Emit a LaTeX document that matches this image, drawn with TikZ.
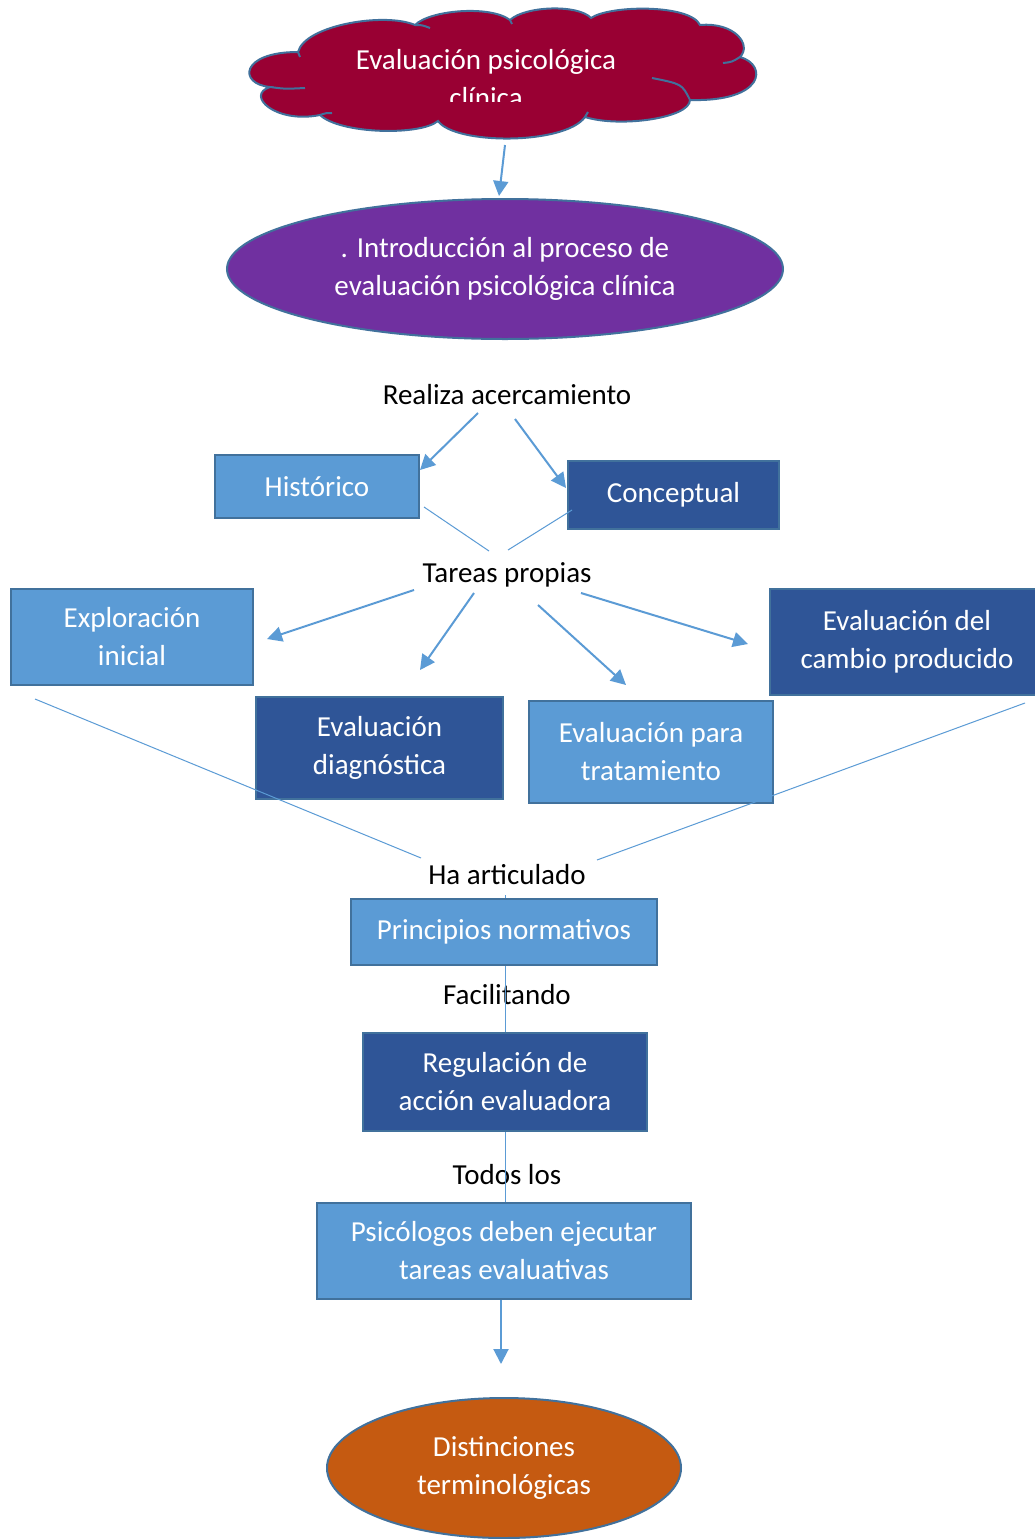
\documentclass[tikz,border=0pt]{standalone}
\usepackage{fontspec}
\setmainfont{Carlito}
\usepackage{tikz}
\usetikzlibrary{
  arrows.meta,
  positioning,
  shapes.geometric,
}
\definecolor{crimson}{HTML}{990033}
\definecolor{violet}{HTML}{7030A0}
\definecolor{rust}{HTML}{C55A11}
\definecolor{skyblue}{HTML}{5B9BD5}
\definecolor{navy}{HTML}{2F5597}
\definecolor{edge}{HTML}{41719C}
\tikzset{
  font=\fontsize{29}{38}\selectfont,
  arrow/.style={draw=skyblue, line width=2pt, -{Triangle[length=15pt, width=15pt]}},
  thin/.style={draw=skyblue, line width=1pt},
  word/.style={text=black, inner sep=0pt},
  rim/.style={draw=edge, line width=2pt},
  box/.style={
    rectangle,
    draw=edge,
    fill=#1,
    line width=2pt,
    text=white,
    align=center,
    inner sep=0pt,
  },
  blob/.style={
    ellipse,
    draw=edge,
    fill=#1,
    line width=2pt,
    text=white,
    align=center,
    inner sep=0pt,
  },
}

\begin{document}
\begin{tikzpicture}[x=1pt,y=-1pt]
  \useasboundingbox (0,0) rectangle (1035,1539);
  \fill[white] (0,0) rectangle (1035,1539);

  % cloud
  \filldraw[rim, fill=crimson] (270,87)
    .. controls (238,84) and (240,52) .. (298,52)
    .. controls (305,25) and (385,12) .. (415,25)
    .. controls (430,10) and (490,5) .. (510,20)
    .. controls (525,6) and (578,4) .. (591,18)
    .. controls (610,5) and (690,4) .. (700,25)
    .. controls (735,22) and (752,45) .. (740,57)
    .. controls (768,65) and (765,102) .. (690,100)
    .. controls (690,118) and (620,128) .. (585,117)
    .. controls (565,145) and (455,145) .. (438,121)
    .. controls (420,136) and (340,134) .. (320,115)
    .. controls (275,124) and (245,95) .. (270,87) -- cycle;
  \draw[rim] (298,52) -- (300,57);
  \draw[rim] (270,87) .. controls (285,89) .. (305,88);
  \draw[rim] (320,115) .. controls (326,113) .. (332,113);
  \draw[rim] (415,25) .. controls (422,25) .. (430,28);
  \draw[rim] (510,20) -- (512,24);
  \draw[rim] (740,57) .. controls (732,62) .. (723,63);
  \draw[rim] (690,100) .. controls (682,84) .. (652,78);
  \draw[rim] (585,117) -- (588,112);
  \begin{scope}
    \clip (250,0) rectangle (757,101);
    \node[text=white, align=center] (cloudtext) at (486,79) {Evaluación psicológica\\clínica};
  \end{scope}

  % ellipses
  \node[blob=violet, minimum width=556pt, minimum height=140pt] (intro) at (505,269)
    {. Introducción al proceso de\\evaluación psicológica clínica};
  \node[blob=rust, minimum width=354pt, minimum height=140pt] (distinciones) at (504,1468)
    {Distinciones\\terminológicas};

  % labels
  \node[word] (realiza) at (507,395) {Realiza acercamiento};
  \node[word] (tareas) at (507,575) {Tareas propias};
  \node[word] (articulado) at (507,875) {Ha articulado};
  \node[word] (facilitando) at (507,995) {Facilitando};
  \node[word] (todos) at (507,1175) {Todos los};

  % spine behind the lower boxes
  \coordinate (spine-top) at (505,895);
  \coordinate (spine-bot) at (505,1203);
  \draw[thin] (spine-top) -- (spine-bot);

  % boxes
  \node[box=skyblue, minimum width=204pt, minimum height=63pt] (historico) at (317,486.5) {Histórico};
  \node[box=navy, minimum width=211pt, minimum height=68pt] (conceptual) at (673.5,495) {Conceptual};
  \node[box=skyblue, minimum width=242pt, minimum height=96pt] (exploracion) at (132,637) {Exploración\\inicial};
  \node[box=navy, minimum width=247pt, minimum height=102pt] (diagnostica) at (379.5,748) {Evaluación\\diagnóstica};
  \node[box=skyblue, minimum width=244pt, minimum height=102pt] (tratamiento) at (651,752) {Evaluación para\\tratamiento};
  \node[box=navy, minimum width=274pt, minimum height=106pt] (cambio) at (907,642) {Evaluación del\\cambio producido};
  \node[box=skyblue, minimum width=306pt, minimum height=66pt] (principios) at (504,932) {Principios normativos};
  \node[box=navy, minimum width=284pt, minimum height=98pt] (regulacion) at (505,1082) {Regulación de\\acción evaluadora};
  \node[box=skyblue, minimum width=374pt, minimum height=96pt] (psicologos) at (504,1251) {Psicólogos deben ejecutar\\tareas evaluativas};

  % arrows
  \coordinate (cloud-out) at (505,145);
  \coordinate (intro-in) at (499,196);
  \draw[arrow] (cloud-out) -- (intro-in);

  \coordinate (realiza-l) at (478,413);
  \coordinate (realiza-r) at (515,419);
  \coordinate (historico-in) at (420,470);
  \coordinate (conceptual-in) at (566,488);
  \draw[arrow] (realiza-l) -- (historico-in);
  \draw[arrow] (realiza-r) -- (conceptual-in);

  \coordinate (historico-out) at (424,507);
  \coordinate (conceptual-out) at (572,510);
  \coordinate (tareas-l) at (489,551);
  \coordinate (tareas-r) at (508,550);
  \draw[thin] (historico-out) -- (tareas-l);
  \draw[thin] (conceptual-out) -- (tareas-r);

  \coordinate (tareas-a) at (414,590);
  \coordinate (tareas-b) at (474,593);
  \coordinate (tareas-c) at (538,605);
  \coordinate (tareas-d) at (581,593);
  \coordinate (exploracion-in) at (267,639);
  \coordinate (diagnostica-in) at (420,670);
  \coordinate (tratamiento-in) at (626,685);
  \coordinate (cambio-in) at (748,644);
  \draw[arrow] (tareas-a) -- (exploracion-in);
  \draw[arrow] (tareas-b) -- (diagnostica-in);
  \draw[arrow] (tareas-c) -- (tratamiento-in);
  \draw[arrow] (tareas-d) -- (cambio-in);

  \coordinate (exploracion-out) at (35,699);
  \coordinate (cambio-out) at (1025,703);
  \coordinate (articulado-l) at (421,858);
  \coordinate (articulado-r) at (597,860);
  \draw[thin] (exploracion-out) -- (articulado-l);
  \draw[thin] (cambio-out) -- (articulado-r);

  \coordinate (psicologos-out) at (501,1300);
  \coordinate (distinciones-in) at (501,1364);
  \draw[arrow] (psicologos-out) -- (distinciones-in);
\end{tikzpicture}
\end{document}
